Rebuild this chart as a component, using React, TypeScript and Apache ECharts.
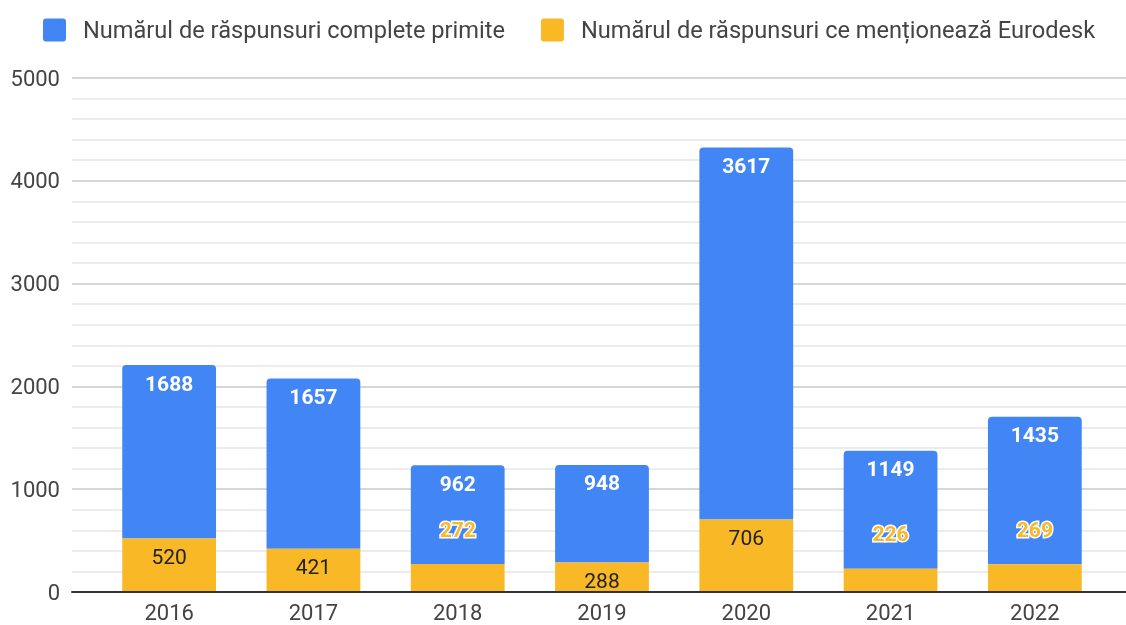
import React, { useEffect, useRef } from "react";
import * as echarts from "echarts";

const years = ["2016", "2017", "2018", "2019", "2020", "2021", "2022"];
const completeResponses = [1688, 1657, 962, 948, 3617, 1149, 1435];
const eurodeskResponses = [520, 421, 272, 288, 706, 226, 269];
const seriesNames = [
  "Numărul de răspunsuri complete primite",
  "Numărul de răspunsuri ce menționează Eurodesk",
];
const BLUE = "#4285F4";
const YELLOW = "#F9B826";
const FONT = "Roboto";
const ICON =
  "path://M3,0 H20 A3,3 0 0 1 23,3 V20 A3,3 0 0 1 20,23 H3 A3,3 0 0 1 0,20 V3 A3,3 0 0 1 3,0 Z";

export default function App() {
  const ref = useRef<HTMLDivElement>(null);
  useEffect(() => {
    if (!ref.current) return;
    const chart = echarts.init(ref.current, null, { renderer: "svg" });
    const yellowData = eurodeskResponses.map((v) => {
      const small = v < 280;
      return {
        value: v,
        label: small
          ? {
              show: true,
              position: "top",
              distance: 24,
              color: YELLOW,
              fontWeight: "bold",
              textBorderColor: "#fff",
              textBorderWidth: 3,
            }
          : {
              show: true,
              position: "insideTop",
              distance: 8,
              color: "#222",
            },
      };
    });
    chart.setOption({
      animation: false,
      textStyle: { fontFamily: FONT },
      legend: {
        left: 38,
        top: 13,
        itemWidth: 23,
        itemHeight: 23,
        itemGap: 36,
        icon: ICON,
        data: seriesNames,
        textStyle: {
          fontFamily: FONT,
          fontSize: 23.6,
          color: "#444",
          padding: [0, 0, 0, 12],
        },
      },
      grid: [
        { left: 72, right: 0, top: 78, bottom: 33 },
        { left: 97, right: 19, top: 78, bottom: 33 },
      ],
      xAxis: [
        {
          gridIndex: 0,
          type: "category",
          data: [""],
          axisLine: { show: true, lineStyle: { color: "#333", width: 2 } },
          axisTick: { show: false },
          axisLabel: { show: false },
          splitLine: { show: false },
          z: 5,
        },
        {
          gridIndex: 1,
          type: "category",
          data: years,
          axisLine: { show: false },
          axisTick: { show: false },
          axisLabel: {
            color: "#444",
            fontSize: 22,
            fontFamily: FONT,
            margin: 9,
          },
        },
      ],
      yAxis: [
        {
          gridIndex: 0,
          type: "value",
          min: 0,
          max: 5000,
          interval: 1000,
          axisLine: { show: false },
          axisTick: { show: false },
          axisLabel: {
            color: "#444",
            fontSize: 22,
            fontFamily: FONT,
            margin: 12,
            formatter: (v: number) => String(v),
          },
          splitLine: { lineStyle: { color: "#c8c8c8", width: 1.5 } },
          minorTick: { show: false, splitNumber: 5 },
          minorSplitLine: { show: true, lineStyle: { color: "#e6e6e6", width: 1.5 } },
        },
        {
          gridIndex: 1,
          type: "value",
          min: 0,
          max: 5000,
          show: false,
          splitLine: { show: false },
        },
      ],
      series: [
        {
          name: seriesNames[1],
          type: "bar",
          stack: "total",
          xAxisIndex: 1,
          yAxisIndex: 1,
          barWidth: "65%",
          itemStyle: { color: YELLOW },
          label: { fontSize: 21, fontFamily: FONT },
          data: yellowData,
          z: 3,
        },
        {
          name: seriesNames[0],
          type: "bar",
          stack: "total",
          xAxisIndex: 1,
          yAxisIndex: 1,
          barWidth: "65%",
          itemStyle: { color: BLUE, borderRadius: [4, 4, 0, 0] },
          label: {
            show: true,
            position: "insideTop",
            distance: 8,
            color: "#fff",
            fontWeight: "bold",
            fontSize: 21,
            fontFamily: FONT,
          },
          data: completeResponses,
          z: 2,
        },
      ],
    });
    return () => chart.dispose();
  }, []);
  return (
    <div
      ref={ref}
      style={{ position: "fixed", left: 0, top: 0, width: 1126, height: 625 }}
    />
  );
}
